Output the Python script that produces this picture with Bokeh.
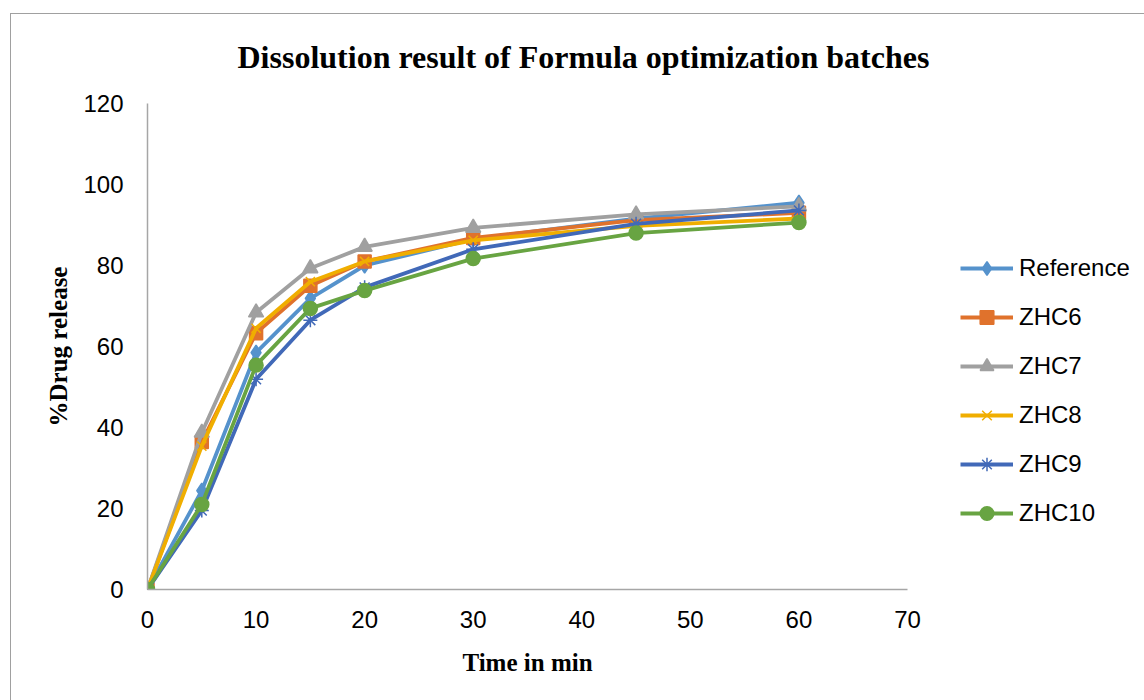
from bokeh.plotting import figure
from bokeh.models import Range1d, Legend, LegendItem, FixedTicker
from bokeh.embed import file_html
from bokeh.resources import INLINE

time_min = [0, 5, 10, 15, 20, 30, 45, 60]
reference = [0, 24.4, 58.5, 71.9, 80.0, 86.5, 91.6, 95.5]
zhc6 = [0, 36.4, 63.3, 75.0, 81.0, 86.8, 91.2, 93.0]
zhc7 = [0, 38.7, 68.4, 79.3, 84.6, 89.3, 92.6, 94.6]
zhc8 = [0, 35.4, 64.5, 76.0, 81.0, 86.2, 89.8, 91.6]
zhc9 = [0, 19.5, 51.9, 66.5, 74.6, 84.0, 90.3, 93.6]
zhc10 = [0, 21.0, 55.4, 69.4, 73.8, 81.7, 88.0, 90.6]

series_names = ["Reference", "ZHC6", "ZHC7", "ZHC8", "ZHC9", "ZHC10"]
series_values = [reference, zhc6, zhc7, zhc8, zhc9, zhc10]
series_colors = ["#5592CC", "#E0722C", "#A0A0A0", "#F0AE00", "#4169B8", "#68A442"]
series_markers = ["diamond", "square", "triangle", "x", "asterisk", "circle"]
marker_sizes = [15, 13, 15, 13, 14, 14]

x_ticks = [0, 10, 20, 30, 40, 50, 60, 70]
y_ticks = [0, 20, 40, 60, 80, 100, 120]

chart_border_css = (
    "linear-gradient(#a0a0a0, #a0a0a0) 10px 13px / 1px calc(100% - 13px) no-repeat, "
    "linear-gradient(#a0a0a0, #a0a0a0) 10px 13px / calc(100% - 10px) 1px no-repeat, "
    "#ffffff"
)

p = figure(
    frame_width=760, frame_height=486,
    min_border_left=147, min_border_right=237,
    min_border_top=103, min_border_bottom=111,
    x_range=Range1d(0, 70), y_range=Range1d(0, 120),
    output_backend="svg", toolbar_location=None,
    styles={"background": chart_border_css},
)
p.outline_line_color = None
p.xgrid.visible = False
p.ygrid.visible = False
p.background_fill_color = "white"
p.border_fill_alpha = 0

p.title.text = "Dissolution result of Formula optimization batches"
p.title.text_font = "Liberation Serif"
p.title.text_font_style = "bold"
p.title.text_font_size = "32px"
p.title.align = "left"
p.title.offset = 90
p.title.standoff = 58
p.title.text_color = "black"

for ax, ticks in ((p.xaxis, x_ticks), (p.yaxis, y_ticks)):
    ax.ticker = FixedTicker(ticks=ticks)
    ax.axis_line_color = "#a6a6a6"
    ax.axis_line_width = 1.5
    ax.major_tick_line_color = None
    ax.minor_tick_line_color = None
    ax.major_tick_out = 0
    ax.major_tick_in = 0
    ax.major_label_text_font = "Liberation Sans"
    ax.major_label_text_font_size = "24px"
    ax.major_label_text_color = "black"
    ax.axis_label_text_font = "Liberation Serif"
    ax.axis_label_text_font_style = "bold"
    ax.axis_label_text_font_size = "25px"
    ax.axis_label_text_color = "black"

p.xaxis.axis_label = "Time in min"
p.yaxis.axis_label = "%Drug release"
p.xaxis.major_label_standoff = 21
p.yaxis.major_label_standoff = 24
p.xaxis.axis_label_standoff = 18
p.yaxis.axis_label_standoff = 8

items = []
for name, vals, col, mk, ms in zip(series_names, series_values, series_colors, series_markers, marker_sizes):
    ln = p.line(time_min, vals, line_color=col, line_width=3.8)
    sc = p.scatter(time_min, vals, marker=mk, size=ms, fill_color=col, line_color=col, line_width=1.5)
    items.append(LegendItem(label=name, renderers=[ln, sc]))

legend = Legend(
    items=items, location=(53, 59),
    glyph_width=53, glyph_height=34, label_height=20,
    spacing=15, padding=0, margin=0, label_standoff=6,
    label_text_font="Liberation Sans", label_text_font_size="24px",
    label_text_color="black",
    border_line_color=None, background_fill_alpha=0,
)
p.add_layout(legend, "right")

open("out.html", "w").write(file_html(p, INLINE))
